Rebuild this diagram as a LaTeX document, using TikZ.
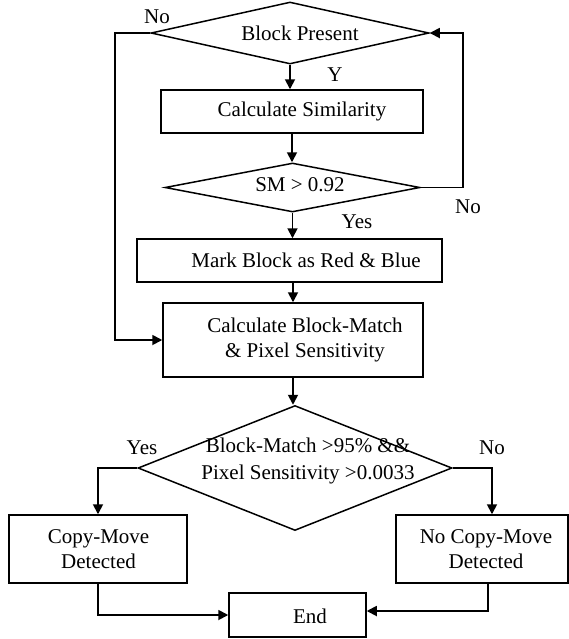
\documentclass[tikz,border=0pt]{standalone}
\usepackage{fontspec}
\setmainfont{Liberation Serif}
\usetikzlibrary{arrows.meta,positioning,shapes.geometric}

\begin{document}
\begin{tikzpicture}[
  x=0.5pt, y=-0.5pt,
  font=\fontsize{10.5}{12.5}\selectfont, >={Triangle[length=5pt,width=5pt]},
  box/.style={draw, line width=0.75pt, inner sep=0pt},
  dia/.style={draw, diamond, line width=0.75pt, inner sep=0pt},
  txt/.style={align=center, inner sep=0pt},
  arr/.style={->, line width=0.9pt},
]
\useasboundingbox (0,0) rectangle (569,639);

% Loop over blocks
\node[dia, minimum width=139pt, minimum height=31pt] (present) at (290,33) {};
\node[txt] (tpresent) at (300,33) {Block Present};
\node[box, minimum width=131pt, minimum height=21.5pt] (sim) at (292,111.5) {};
\node[txt] (tsim) at (302,111) {Calculate Similarity};
\node[dia, minimum width=127.5pt, minimum height=24.5pt] (sm) at (292.5,187.5) {};
\node[txt] (tsm) at (300,185) {SM > 0.92};
\node[box, minimum width=152.5pt, minimum height=21.5pt] (mark) at (289.5,260.5) {};
\node[txt] (tmark) at (306,260) {Mark Block as Red \& Blue};

% Block-match and sensitivity test
\node[box, minimum width=130pt, minimum height=37pt] (calc) at (293,340) {};
\node[txt] (tcalc) at (305,340) {Calculate Block-Match\\\& Pixel Sensitivity};
\node[dia, minimum width=157pt, minimum height=62.5pt] (test) at (295,468) {};
\node[txt, font=\fontsize{10.5}{13.5}\selectfont] (ttest) at (308,461)
  {Block-Match >95\% \&\&\\Pixel Sensitivity >0.0033};

% Outcomes
\node[box, minimum width=89pt, minimum height=34pt] (cm) at (98,549) {};
\node[txt] (tcm) at (98.5,549) {Copy-Move\\Detected};
\node[box, minimum width=86pt, minimum height=34pt] (ncm) at (482,549) {};
\node[txt] (tncm) at (486,549) {No Copy-Move\\Detected};
\node[box, minimum width=68.5pt, minimum height=22pt] (fin) at (297.5,615) {};
\node[txt] (tfin) at (310,616) {End};

% Arrows
\draw[arr] (present.south) -- (present.south |- sim.north);
\draw[arr] (sim.south) -- (sim.south |- sm.north);
\draw[arr] (sm.south) -- (sm.south |- mark.north);
\draw[arr] (mark.south -| calc.north) -- (calc.north);
\draw[arr] (calc.south) -- (calc.south |- test.north);
\draw[arr] (present.west) -- ++(-35,0) |- (calc.west);
\draw[arr] (sm.east) -- ++(42,0) |- (present.east);
\draw[arr] (test.west) -| (cm.north);
\draw[arr] (test.east) -| ([xshift=5pt]ncm.north);
\draw[arr] (cm.south) |- (fin.west);
\draw[arr] ([xshift=3pt]ncm.south) |- ([yshift=2pt]fin.east);

% Branch labels
\node[txt] (lno1) at (157,17) {No};
\node[txt] (ly) at (335,75) {Y};
\node[txt] (lno2) at (468,207) {No};
\node[txt] (lyes1) at (357,222) {Yes};
\node[txt] (lyes2) at (142,448) {Yes};
\node[txt] (lno3) at (492,448) {No};
\end{tikzpicture}
\end{document}
